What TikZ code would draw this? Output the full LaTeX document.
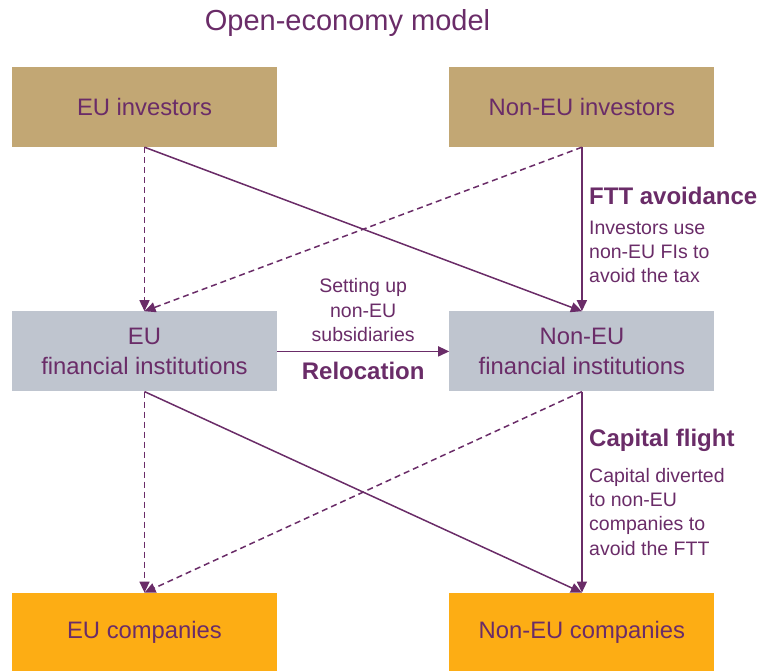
\documentclass[tikz,border=0pt]{standalone}
\usepackage{fontspec}
\setmainfont{Liberation Sans}
\definecolor{modelpurple}{HTML}{6A2C68}
\definecolor{invtan}{HTML}{C2A774}
\definecolor{figrey}{HTML}{BFC5CF}
\definecolor{comporange}{HTML}{FDAD14}
\usetikzlibrary{positioning,arrows.meta}

\begin{document}
\begin{tikzpicture}[x=1pt, y=1pt, node distance=164pt and 172pt,
  box/.style={minimum width=265pt, minimum height=80pt, inner sep=0pt,
    text=modelpurple, align=center, font=\fontsize{23.8}{30}\selectfont},
  flow/.style={->, modelpurple, line width=1.5pt},
  altflow/.style={flow, dash pattern=on 6pt off 4pt},
  head/.style={inner sep=0pt, text=modelpurple, anchor=base west,
    font=\fontsize{24}{28}\selectfont\bfseries},
  note/.style={inner sep=0pt, text=modelpurple, align=left,
    font=\fontsize{19.5}{24.3}\selectfont},
  >={Triangle[length=11pt, width=10pt]}]
  \useasboundingbox (0,0) rectangle (762,-670);

  \node[inner sep=0pt, anchor=base, text=modelpurple,
    font=\fontsize{29}{34}\selectfont] (title) at (347.5,-30.7) {Open-economy model};

  % three layers, EU on the left and non-EU on the right
  \node[box, fill=invtan] (euinv) at (144.5,-107) {EU investors};
  \node[box, fill=invtan, right=of euinv] (noneuinv) {Non-EU investors};
  \node[box, fill=figrey, below=of euinv] (eufi) {EU\\financial institutions};
  \node[box, fill=figrey, below=of noneuinv] (noneufi) {Non-EU\\financial institutions};
  \node[box, fill=comporange, below=201pt of eufi] (eucomp) {EU companies};
  \node[box, fill=comporange, below=201pt of noneufi] (noneucomp) {Non-EU companies};

  % investors -> financial institutions
  \draw[altflow] (euinv.south) -- (eufi.north);
  \draw[flow] (euinv.south) -- (noneufi.north);
  \draw[altflow] (noneuinv.south) -- (eufi.north);
  \draw[flow] (noneuinv.south) -- (noneufi.north);

  % financial institutions -> companies
  \draw[altflow] (eufi.south) -- (eucomp.north);
  \draw[flow] (eufi.south) -- (noneucomp.north);
  \draw[altflow] (noneufi.south) -- (eucomp.north);
  \draw[flow] (noneufi.south) -- (noneucomp.north);

  \draw[flow] (eufi) -- (noneufi)
    node[note, align=center, midway, above=9pt] (setup) {Setting up\\non-EU\\subsidiaries}
    node[head, anchor=north, midway, below=10pt] (reloc) {Relocation};

  \node[head] (ftt) at (589,-204.3) {FTT avoidance};
  \node[note, below=16pt of ftt.south west, anchor=north west] (fttnote)
    {Investors use\\non-EU FIs to\\avoid the tax};
  \node[head] (flight) at (589,-446.7) {Capital flight};
  \node[note, below=16pt of flight.south west, anchor=north west] (flightnote)
    {Capital diverted\\to non-EU\\companies to\\avoid the FTT};
\end{tikzpicture}
\end{document}
